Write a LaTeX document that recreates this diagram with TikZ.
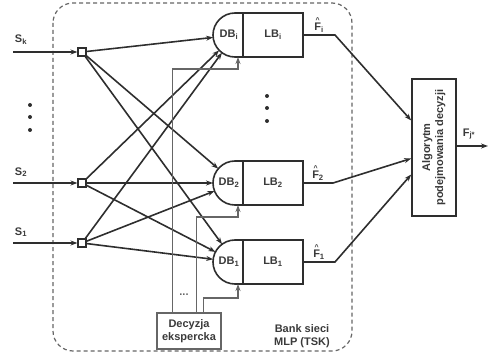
\documentclass[tikz,border=0pt]{standalone}
\usepackage{fontspec}
\setmainfont{Liberation Sans}
\usepackage{tikz}
\usetikzlibrary{positioning,arrows.meta}

\definecolor{ink}{HTML}{2E2E2E}
\definecolor{txt}{HTML}{3A3A3A}
\definecolor{expgray}{HTML}{666666}

\tikzset{
  dbarc/.style={circle,minimum size=44pt,inner sep=0pt,outer sep=0pt},
  lbbox/.style={draw=ink,line width=1.6pt,minimum width=60pt,minimum height=44pt,inner sep=0pt,outer sep=0pt,anchor=west},
  sqbox/.style={draw=ink,line width=1.1pt,fill=white,minimum size=8pt,inner sep=0pt},
  decbox/.style={draw=expgray,line width=1.2pt,minimum width=64pt,minimum height=36pt,align=center,inner sep=1pt},
  algbox/.style={draw=ink,line width=1.6pt,minimum width=44pt,minimum height=137pt,inner sep=0pt},
  mainline/.style={draw=ink,line width=1.6pt,->},
  expline/.style={draw=expgray,line width=1.2pt,->},
  lbl/.style={text=txt,font=\fontsize{11}{13}\selectfont\bfseries,inner sep=1pt}
}
\newcommand{\fhat}[1]{\ooalign{F\cr\hidewidth\raisebox{8pt}{\fontsize{7}{7}\selectfont\textasciicircum}\hidewidth\cr}\textsubscript{#1}}

\begin{document}
\begin{tikzpicture}[x=1pt,y=-1pt,>={Stealth[length=7pt,width=5pt]},every node/.append style={lbl}]
\useasboundingbox (0,0) rectangle (488,353);

% bank of networks
\draw[expgray,line width=1.2pt,dash pattern=on 4pt off 3pt,rounded corners=20pt] (53,3) rectangle (352,351);

% input splitting points
\node[sqbox] (sqk) at (82,52) {};
\node[sqbox] (sq2) at (82,183) {};
\node[sqbox] (sq1) at (82,243) {};
\coordinate (ink) at (13,52);
\coordinate (in2) at (13,183);
\coordinate (in1) at (13,243);
\node at (21,40) {S\textsubscript{k}};
\node at (21,172) {S\textsubscript{2}};
\node at (21,232) {S\textsubscript{1}};
\foreach \y in {105,117,130} \fill[ink] (30,\y) circle (2pt);

% DB / LB blocks
\node[dbarc,label={[lbl,xshift=-6pt]center:DB\textsubscript{i}}] (dbI) at (235,35) {};
\node[dbarc,label={[lbl,xshift=-6pt]center:DB\textsubscript{2}}] (db2) at (235,183) {};
\node[dbarc,label={[lbl,xshift=-6pt]center:DB\textsubscript{1}}] (db1) at (235,262) {};
\node[lbbox] (lbI) [right=8pt of dbI.center] {LB\textsubscript{i}};
\node[lbbox] (lb2) [right=8pt of db2.center] {LB\textsubscript{2}};
\node[lbbox] (lb1) [right=8pt of db1.center] {LB\textsubscript{1}};
\foreach \n in {I,2,1}
  \draw[ink,line width=1.6pt] (lb\n.north west) -- (db\n.north) arc[start angle=90,end angle=270,radius=22pt] -- (lb\n.south west);
\foreach \y in {96,108,121} \fill[ink] (267,\y) circle (2pt);

% inputs
\draw[mainline] (ink) -- (sqk);
\draw[mainline] (in2) -- (sq2);
\draw[mainline] (in1) -- (sq1);
\foreach \s in {k,2,1}
  \foreach \d in {I,2,1}
    \draw[mainline] (sq\s) -- (db\d);

% expert decision
\node[decbox] (dec) at (189,331) {Decyzja\\ekspercka};
\draw[expline] ([xshift=16pt]dec.north west) |- ([xshift=-5pt,yshift=-12pt]lbI.south west) -- ([xshift=-5pt]lbI.south west);
\draw[expline] ([xshift=40pt]dec.north west) |- ([xshift=-5pt,yshift=-12pt]lb2.south west) -- ([xshift=-5pt]lb2.south west);
\draw[expline] ([xshift=47pt]dec.north west) |- ([xshift=-5pt,yshift=-14pt]lb1.south west) -- ([xshift=-5pt]lb1.south west);
\node[text=expgray] at (184,295) {...};
\node[align=center] at (302,336) {Bank sieci\\MLP (TSK)};

% decision fusion
\node[algbox] (alg) at (434,147.5) {\rotatebox{90}{\begin{tabular}{@{}c@{}}Algorytm\\podejmowania decyzji\end{tabular}}};
\draw[mainline] (lbI.east) -- node[above=1pt] {\fhat{i}} ++(32,0) -- ([yshift=27pt]alg.west);
\draw[mainline] (lb2.east) -- node[above=1pt] {\fhat{2}} ++(30,0) -- ([yshift=-11pt]alg.west);
\draw[mainline] (lb1.east) -- node[above=1pt] {\fhat{1}} ++(32,0) -- ([yshift=-27pt]alg.west);
\coordinate (out) at (488,146);
\draw[mainline] (alg.east |- out) -- (out);
\node at (469,134) {F\textsubscript{j*}};
\end{tikzpicture}
\end{document}
